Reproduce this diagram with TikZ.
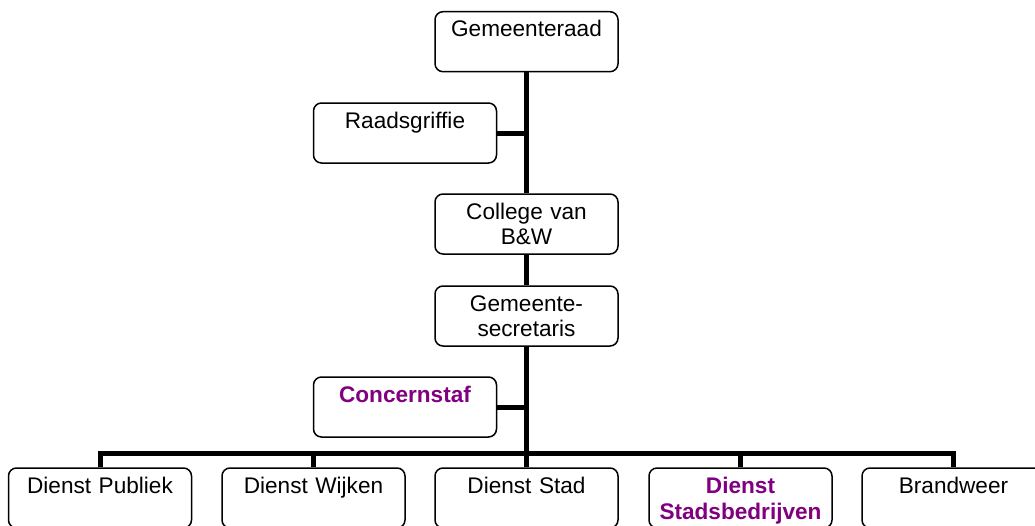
\documentclass[tikz,border=0pt]{standalone}
\usepackage{fontspec}
\setmainfont{Liberation Sans}
\definecolor{staffpurple}{RGB}{128,0,128}
\begin{document}
\begin{tikzpicture}[x=1pt,y=-1pt,
  unit/.style={draw=black, line width=1.5pt, rounded corners=8pt,
    minimum width=183pt, minimum height=60pt, inner sep=0pt, fill=white},
  caption/.style={anchor=base, yshift=-26pt, text width=180pt, align=center,
    inner sep=0pt, font=\fontsize{22.6}{25}\selectfont},
  staffname/.style={caption, text=staffpurple,
    font=\fontsize{22.6}{26}\selectfont\bfseries},
  link/.style={line width=5pt, line join=miter}]
\useasboundingbox (0,0) rectangle (1035,525);
\clip (0,0) rectangle (1035,525);

% boxes
\node[unit] (raad)    at (526.5,41.7)  {};
\node[unit] (griffie) at (405,133)     {};
\node[unit] (college) at (526.5,224)   {};
\node[unit] (secr)    at (526.5,316)   {};
\node[unit] (staf)    at (405,407)     {};
\node[unit] (publiek) at (100,498)     {};
\node[unit] (wijken)  at (313.5,498)   {};
\node[unit] (stad)    at (526.5,498)   {};
\node[unit] (bedrijf) at (740.5,498)   {};
\node[unit] (brand)   at (953.5,498)   {};

% captions
\node[caption]   (traad)    at (raad.north)    {Gemeenteraad};
\node[caption]   (tgriffie) at (griffie.north) {Raadsgriffie};
\node[caption]   (tcollege) at (college.north) {College van\\B\&W};
\node[caption]   (tsecr)    at (secr.north)    {Gemeente-\\secretaris};
\node[staffname] (tstaf)    at (staf.north)    {Concernstaf};
\node[caption]   (tpubliek) at (publiek.north) {Dienst Publiek};
\node[caption]   (twijken)  at (wijken.north)  {Dienst Wijken};
\node[caption]   (tstad)    at (stad.north)    {Dienst Stad};
\node[staffname] (tbedrijf) at (bedrijf.north) {Dienst\\Stadsbedrijven};
\node[caption]   (tbrand)   at (brand.north)   {Brandweer};

% connectors
\coordinate (bus) at (526.5,453);
\draw[link] (raad.south) -- (college.north);
\draw[link] (college.south) -- (secr.north);
\draw[link] (secr.south) -- (bus);
\draw[link] (griffie.east) -- (griffie.east -| raad.south);
\draw[link] (staf.east) -- (staf.east -| secr.south);
\draw[link] (publiek.north) |- (bus) -| (brand.north);
\draw[link] (wijken.north) -- (wijken.north |- bus);
\draw[link] (stad.north) -- (bus);
\draw[link] (bedrijf.north) -- (bedrijf.north |- bus);
\end{tikzpicture}
\end{document}
